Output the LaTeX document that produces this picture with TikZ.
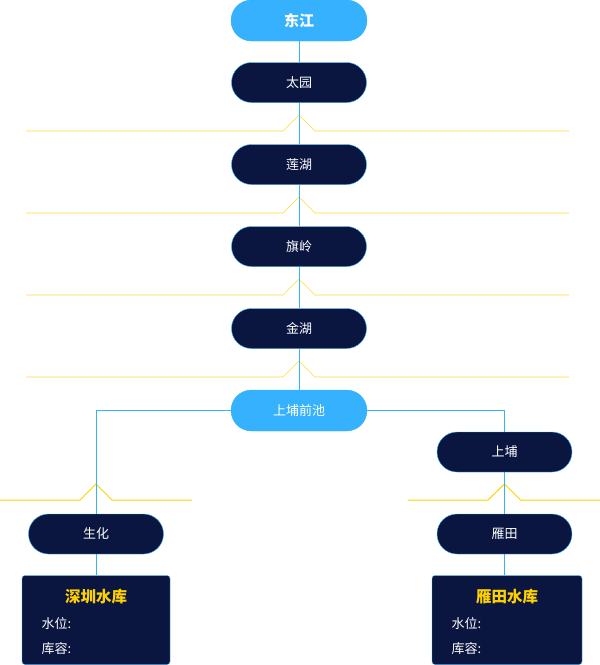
\documentclass[tikz,border=0pt]{standalone}
\usepackage{fontspec}
\setmainfont{Noto Sans CJK SC}
\usetikzlibrary{positioning}
\usetikzlibrary{backgrounds}
\definecolor{skyblue}{HTML}{36B1FE}
\definecolor{navy}{HTML}{0A1640}
\definecolor{weirgold}{HTML}{FFD000}
\tikzset{
    every node/.append style={text=white,font=\fontsize{13}{15}\selectfont},
    pool/.style={fill=skyblue, draw=skyblue, rounded corners=20.5pt, minimum width=136pt, minimum height=41pt, inner sep=0pt},
    station/.style={fill=navy, draw=skyblue, rounded corners=20pt, minimum width=135pt, minimum height=40pt, inner sep=0pt},
    reservoir/.style={fill=navy, draw=skyblue, rounded corners=3pt, minimum width=148pt, minimum height=89pt, inner sep=0pt},
    restitle/.style={text=weirgold, font=\bfseries\fontsize{15.5}{18}\selectfont},
    pipe/.style={draw=skyblue, line width=0.9pt},
    weir/.style={draw=weirgold, line width=1pt},
    thinweir/.style={draw=weirgold!80, line width=0.6pt},
    x=1pt, y=-1pt
}

\begin{document}
\begin{tikzpicture}
\useasboundingbox (0,0) rectangle (600,665);

\node[pool, font=\bfseries\fontsize{15}{18}\selectfont] (dongjiang) at (299,20.5) {东江};
\node[station] (taiyuan) at (299,82.5) {太园};
\node[station] (lianhu) at (299,164.5) {莲湖};
\node[station] (qiling) at (299,246.5) {旗岭};
\node[station] (jinhu) at (299,328.5) {金湖};
\node[pool] (qianchi) at (299,410.5) {上埔前池};
\node[station] (shangpu) at (504.5,452) {上埔};
\node[station] (yantian) at (504.5,534) {雁田};
\node[station] (shenghua) at (96,534) {生化};

% reservoirs
\node[reservoir] (shenzhen) at (96,620) {};
\node[restitle] (shenzhentitle) at (96,597) {深圳水库};
\node[anchor=west] (shenzhenlevel) at (38,624) {水位:};
\node[anchor=west] (shenzhencap) at (38,649) {库容:};
\node[reservoir, minimum width=150pt] (yantianres) at (507,620) {};
\node[restitle] (yantiantitle) at (507,597) {雁田水库};
\node[anchor=west] (yantianlevel) at (448,624) {水位:};
\node[anchor=west] (yantiancap) at (448,649) {库容:};

\begin{pgfonlayer}{background}
\foreach \y in {131,213,295,377}
    \draw[thinweir] (26,\y) -- (283,\y) -- (299,{\y-16}) -- (315,\y) -- (569,\y);
\draw[weir] (0,500) -- (80,500) -- (96,484) -- (112,500) -- (192,500);
\draw[weir] (408,500) -- (488,500) -- (504.5,484) -- (520.5,500) -- (600,500);

\draw[pipe] (dongjiang) -- (taiyuan) -- (lianhu) -- (qiling) -- (jinhu) -- (qianchi);
\draw[pipe] (qianchi.west) -| (shenghua.north);
\draw[pipe] (qianchi.east) -| (shangpu.north);
\draw[pipe] (shangpu) -- (yantian);
\draw[pipe] (shenghua) -- (shenzhen);
\draw[pipe] (yantian) -- (yantianres.north -| yantian);
\end{pgfonlayer}
\end{tikzpicture}
\end{document}
